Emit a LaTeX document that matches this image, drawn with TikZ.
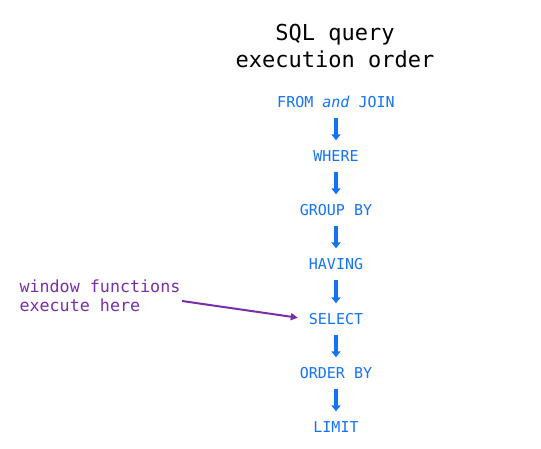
\documentclass[tikz,border=0pt]{standalone}
\usepackage{fontspec}
\setmonofont{DejaVu Sans Mono}
\usetikzlibrary{positioning,arrows.meta}
\definecolor{sqlblue}{HTML}{1472F5}
\definecolor{note}{HTML}{7A2EA6}

\begin{document}
\begin{tikzpicture}[x=1pt,y=-1pt,every node/.style={font=\ttfamily}]
      \tikzstyle{clause}=[text=sqlblue,font=\ttfamily\fontsize{15}{17}\selectfont,
                          inner sep=2pt,minimum height=17pt];
      \tikzstyle{flow}  =[-{Triangle[width=9pt,length=6pt]},line width=3.5pt,
                          draw=sqlblue,shorten <=7pt,shorten >=7pt];
      \useasboundingbox (0,0) rectangle (541,449);
      \node[font=\ttfamily\fontsize{22}{27}\selectfont,align=center] (title) at (335,46)
           {SQL query\\execution order};
      \node[clause] (from)  at (336,102) {FROM \textit{and} JOIN};
      \node[clause] (where) at (336,156) {WHERE};
      \node[clause] (group) at (336,210) {GROUP BY};
      \node[clause] (have)  at (336,264) {HAVING};
      \node[clause] (sel)   at (336,319) {SELECT};
      \node[clause] (order) at (336,373) {ORDER BY};
      \node[clause] (lim)   at (336,427) {LIMIT};
      \draw[flow] (from) -- (where);
      \draw[flow] (where) -- (group);
      \draw[flow] (group) -- (have);
      \draw[flow] (have) -- (sel);
      \draw[flow] (sel) -- (order);
      \draw[flow] (order) -- (lim);
      \node[text=note,font=\ttfamily\fontsize{16.7}{19}\selectfont,align=left,anchor=west]
           (win) at (16,296) {window functions\\execute here};
      \coordinate (tail) at (182,301);
      \draw[-{Triangle[width=7pt,length=7pt]},line width=2pt,note,shorten >=9pt]
           (tail) -- (sel.west);
    \end{tikzpicture}
\end{document}
